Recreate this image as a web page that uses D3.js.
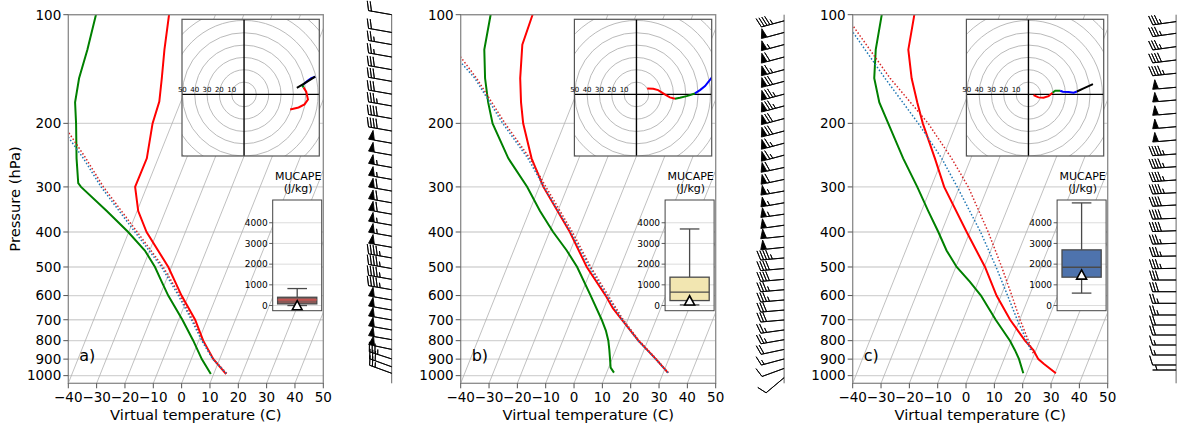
<!DOCTYPE html>
<html><head><meta charset="utf-8">
<script src="https://cdn.jsdelivr.net/npm/d3@7"></script>
<style>body{margin:0;background:#fff;} svg{display:block;font-family:"DejaVu Sans",sans-serif;}</style>
</head><body><svg id="chart" width="1184" height="425"></svg>
<script>
// ---------------- DATA ----------------
const panelLabels = ["a)", "b)", "c)"];
const pressureTicks = [100, 200, 300, 400, 500, 600, 700, 800, 900, 1000];
const tempTicks = [-40, -30, -20, -10, 0, 10, 20, 30, 40, 50];
const capeTicks = [0, 1000, 2000, 3000, 4000];

// Panel a
const tvA_p = [990, 900, 800, 700, 600, 500, 400, 350, 300, 250, 200, 174, 150, 125, 100];
const tvA_t = [14.4, 7.8, 1.6, -4.2, -12.4, -21.1, -33.7, -39.6, -44.1, -44.0, -46.9, -47.6, -50.0, -53.1, -56.4];
const tdA_p = [990, 900, 800, 700, 600, 550, 500, 450, 400, 350, 300, 293, 250, 200, 175, 150, 125, 100];
const tdA_t = [9.0, 3.7, -1.9, -8.7, -17.1, -21.3, -25.8, -31.7, -40.2, -50.7, -63.2, -64.7, -68.8, -73.9, -77.2, -79.2, -80.3, -82.2];
const parcelVA_p = [985, 900, 800, 700, 600, 500, 400, 300, 250, 211];
const parcelVA_t = [14.5, 7.8, 1.4, -5.1, -13.0, -22.9, -37.0, -55.3, -65.5, -75.5];
const parcelA_p = [985, 900, 800, 700, 600, 500, 400, 300, 250, 218];
const parcelA_t = [14.3, 7.6, 1.1, -5.5, -13.5, -23.5, -37.8, -56.1, -66.4, -74.8];

// Panel b
const tvB_p = [981, 900, 800, 700, 650, 600, 500, 400, 300, 250, 200, 175, 150, 121, 100];
const tvB_t = [31.6, 25.5, 16.7, 7.9, 3.1, -1.2, -11.9, -22.8, -38.5, -46.7, -54.6, -58.3, -62.0, -66.0, -66.6];
const tdB_p = [981, 950, 900, 850, 800, 750, 700, 600, 500, 450, 400, 350, 300, 250, 200, 175, 150, 125, 100];
const tdB_t = [12.6, 10.7, 9.3, 7.8, 6.1, 3.8, 0.8, -6.5, -15.3, -21.3, -28.7, -36.3, -44.2, -54.9, -65.4, -69.9, -74.4, -78.7, -81.4];
const parcelVB_p = [981, 900, 800, 700, 600, 500, 400, 300, 250, 200, 150, 131];
const parcelVB_t = [31.8, 25.7, 17.0, 8.4, -0.3, -10.5, -21.9, -37.6, -47.3, -61.0, -77.4, -86.0];
const parcelB_p = [981, 900, 800, 700, 600, 500, 400, 300, 250, 200, 150, 133];
const parcelB_t = [31.6, 25.4, 16.6, 8.0, -0.8, -11.0, -22.5, -38.3, -48.0, -61.8, -78.0, -86.5];

// Panel c
const tvC_p = [985, 928, 900, 850, 800, 700, 600, 500, 400, 300, 250, 200, 175, 150, 125, 100];
const tvC_t = [30.3, 24.8, 22.1, 19.1, 14.8, 6.6, -1.6, -9.7, -21.1, -35.4, -42.7, -51.9, -56.8, -62.2, -67.4, -70.2];
const tdC_p = [985, 900, 850, 800, 700, 600, 550, 500, 450, 400, 350, 300, 250, 200, 175, 150, 125, 100];
const tdC_t = [18.8, 15.3, 12.6, 9.5, 1.5, -7.1, -12.9, -19.7, -25.6, -31.1, -37.6, -44.9, -53.9, -64.1, -70.2, -75.4, -78.9, -81.7];
const parcelVC_p = [867, 800, 700, 600, 500, 400, 300, 250, 200, 150, 107];
const parcelVC_t = [19.5, 16.0, 10.1, 3.8, -3.8, -13.5, -26.9, -36.8, -50.0, -69.8, -90.5];
const parcelC_p = [849, 800, 700, 600, 500, 400, 300, 250, 200, 150, 112];
const parcelC_t = [18.1, 15.4, 9.1, 2.3, -5.8, -16.2, -30.8, -40.3, -53.5, -71.6, -89.3];

// Hodographs (u, v) by layer
const hodoLayers = ["low", "mid", "upper", "top"];
const hodoA_u = {low: [37.4, 44.2, 49, 51.8, 50.4, 48.2], mid: [48.2, 47.2, 48.5], upper: [48.5, 51.5, 54.5, 57.7], top: [57.7, 52.5, 48, 42.8]};
const hodoA_v = {low: [-12.2, -10.6, -8.1, -4.1, 2.2, 5.7], mid: [5.7, 7.3, 8.5], upper: [8.5, 11, 13.3, 14.4], top: [14.4, 11.2, 8.3, 5.4]};
const hodoB_u = {low: [8.7, 13.6, 17.6, 23, 27.1, 31.2], mid: [31.2, 35.2, 40.7, 47.4], upper: [47.4, 51.5, 55.6, 60.2, 63], top: []};
const hodoB_v = {low: [4.9, 4.6, 3.5, 0, -2.4, -3.5], mid: [-3.5, -2.7, -1.4, 0.8], upper: [0.8, 3.5, 6.8, 12.7, 16], top: []};
const hodoC_u = {low: [4.1, 8.1, 12.2, 16.3, 19.5], mid: [19.5, 21.7, 25.7], upper: [25.7, 27.9, 32.5, 36.6, 39.3], top: [39.3, 44.7, 52.3]};
const hodoC_v = {low: [-0.5, -2.4, -2.7, -1.4, 1.4], mid: [1.4, 3, 3], upper: [3, 2.2, 1.9, 1.4, 2.4], top: [2.4, 4.9, 8.4]};
const hodoRings = [10, 20, 30, 40, 50, 60, 70, 80];
const hodoRingLabels = [10, 20, 30, 40, 50];

// MUCAPE box plots (J/kg)
const capeLow = [0, 30, 600];
const capeQ1 = [80, 240, 1370];
const capeMed = [270, 650, 1850];
const capeQ3 = [400, 1370, 2690];
const capeHigh = [820, 3700, 4960];
const capeObs = [10, 250, 1500];

// Wind barbs (top -> bottom): pressure (hPa), speed (kt), direction (deg)
const barbA_p = [100, 112, 121, 131, 142, 153, 166, 179, 194, 210, 227, 245, 265, 286, 308, 332, 357, 383, 411, 441, 472, 505, 541, 578, 617, 658, 701, 747, 795, 846, 899, 945, 985];
const barbA_s = [20, 20, 25, 25, 30, 30, 30, 35, 40, 40, 50, 50, 55, 55, 60, 60, 60, 55, 55, 50, 45, 45, 45, 45, 50, 50, 50, 50, 50, 50, 35, 30, 25];
const barbA_d = [280, 280, 280, 280, 280, 280, 280, 280, 280, 280, 280, 280, 280, 280, 280, 280, 280, 280, 280, 280, 280, 280, 280, 280, 280, 280, 280, 280, 280, 282, 288, 290, 290];
const barbB_p = [104, 112, 121, 131, 142, 153, 166, 179, 194, 210, 227, 245, 265, 286, 308, 332, 357, 383, 411, 441, 472, 505, 541, 578, 617, 658, 701, 747, 795, 846, 899, 955, 1013];
const barbB_s = [45, 50, 55, 60, 65, 70, 75, 75, 70, 70, 65, 65, 60, 60, 55, 55, 55, 50, 50, 50, 45, 40, 40, 35, 35, 30, 30, 25, 25, 20, 15, 10, 10];
const barbB_d = [255, 255, 255, 255, 255, 255, 255, 255, 255, 255, 255, 255, 258, 258, 260, 260, 262, 262, 264, 264, 265, 265, 265, 265, 265, 265, 265, 262, 260, 258, 255, 250, 230];
const barbC_p = [104.5, 112.6, 122.6, 133.5, 145.3, 158.9, 172.3, 187.6, 204.3, 222.4, 243.2, 263.7, 287.0, 311.3, 336.7, 366.5, 396.7, 429.8, 466.1, 504.2, 543.3, 585.4, 630.3, 679.1, 723.9, 771.6, 822.4, 876.6, 934.3, 964.6];
const barbC_s = [35, 35, 35, 40, 45, 50, 50, 50, 50, 50, 45, 45, 45, 45, 40, 40, 40, 35, 35, 35, 30, 30, 25, 25, 20, 20, 15, 15, 10, 5];
const barbC_d = [262, 262, 262, 263, 264, 265, 265, 265, 265, 265, 266, 266, 266, 267, 267, 268, 268, 268, 269, 269, 270, 270, 270, 270, 270, 270, 270, 270, 270, 270];

// ---------------- LAYOUT ----------------
const panelX = [68.3, 460.7, 852.7];
const W = 255, yTop = 14.7, yBot = 383.3, H = yBot - yTop;
const skew = Math.tan(30 * Math.PI / 180) * W / H;
const FONT = "DejaVu Sans, sans-serif";
const layerColor = {low: "red", mid: "green", upper: "blue", top: "black"};
const boxFill = ["#8a5a58", "#f2e6b1", "#4e73ad"];

const profiles = [
  {tv: [tvA_p, tvA_t], td: [tdA_p, tdA_t], pv: [parcelVA_p, parcelVA_t], pt: [parcelA_p, parcelA_t], hu: hodoA_u, hv: hodoA_v, bp: barbA_p, bs: barbA_s, bd: barbA_d},
  {tv: [tvB_p, tvB_t], td: [tdB_p, tdB_t], pv: [parcelVB_p, parcelVB_t], pt: [parcelB_p, parcelB_t], hu: hodoB_u, hv: hodoB_v, bp: barbB_p, bs: barbB_s, bd: barbB_d},
  {tv: [tvC_p, tvC_t], td: [tdC_p, tdC_t], pv: [parcelVC_p, parcelVC_t], pt: [parcelC_p, parcelC_t], hu: hodoC_u, hv: hodoC_v, bp: barbC_p, bs: barbC_s, bd: barbC_d}
];

const svg = d3.select("#chart");
svg.append("rect").attr("width", 1184).attr("height", 425).attr("fill", "#fff");
const defs = svg.append("defs");
const yP = d3.scaleLog().domain([1050, 100]).range([yBot, yTop]);
const minus = s => String(s).replace("-", "\u2212");

function barbPoly(spd, dir, L) {
  const s = Math.round(spd / 5) * 5;
  const nflags = Math.floor(s / 50);
  let rem = s - nflags * 50;
  const nb = Math.floor(rem / 10);
  const half = (rem - nb * 10) >= 5;
  const h = 0.4 * L, w = 0.25 * L, sp = 0.125 * L;
  const pts = [[0, 0]];
  let off = L;
  for (let i = 0; i < nflags; i++) {
    if (off !== L) off += sp / 2;
    pts.push([0, off], [h, off - w / 2], [0, off - w]);
    off -= w + sp;
  }
  for (let i = 0; i < nb; i++) {
    pts.push([0, off], [h, off + w / 2], [0, off]);
    off -= sp;
  }
  if (half) {
    if (off === L) { pts.push([0, off]); off -= 1.5 * sp; }
    pts.push([0, off], [h / 2, off + w / 4], [0, off]);
  }
  const rad = dir * Math.PI / 180;
  const u = -s * Math.sin(rad), v = -s * Math.cos(rad);
  const th = Math.atan2(v, u) + Math.PI / 2;
  const c = Math.cos(th), sn = Math.sin(th);
  return pts.map(([x, y]) => [x * c - y * sn, x * sn + y * c]);
}

profiles.forEach((prof, i) => {
  const x0 = panelX[i];
  const xT = d3.scaleLinear().domain([-40, 50]).range([x0, x0 + W]);
  const px = (T, p) => xT(T) + skew * (yBot - yP(p));
  const g = svg.append("g");
  const cid = "clip" + i;
  defs.append("clipPath").attr("id", cid).append("rect")
    .attr("x", x0).attr("y", yTop).attr("width", W).attr("height", H);

  const grid = g.append("g").attr("clip-path", `url(#${cid})`);
  // isobars
  grid.selectAll(".isobar").data(pressureTicks).join("line")
    .attr("x1", x0).attr("x2", x0 + W)
    .attr("y1", d => yP(d)).attr("y2", d => yP(d))
    .attr("stroke", "#d4d4d4").attr("stroke-width", 1.3);
  // isotherms (one per bottom tick)
  grid.selectAll(".isotherm").data(tempTicks).join("line")
    .attr("x1", d => xT(d)).attr("y1", yBot)
    .attr("x2", d => xT(d) + skew * H).attr("y2", yTop)
    .attr("stroke", "#b0b0b0").attr("stroke-width", 0.8);

  // profiles
  const line = d3.line().x(d => px(d[1], d[0])).y(d => yP(d[0]));
  const zip = ([ps, ts]) => ps.map((p, k) => [p, ts[k]]);
  const curves = g.append("g").attr("clip-path", `url(#${cid})`);
  curves.append("path").attr("d", line(zip(prof.tv))).attr("fill", "none").attr("stroke", "red").attr("stroke-width", 2);
  curves.append("path").attr("d", line(zip(prof.td))).attr("fill", "none").attr("stroke", "green").attr("stroke-width", 2);
  curves.append("path").attr("d", line(zip(prof.pv))).attr("fill", "none").attr("stroke", "#d62728").attr("stroke-width", 1.5).attr("stroke-dasharray", "1.5,2");
  curves.append("path").attr("d", line(zip(prof.pt))).attr("fill", "none").attr("stroke", "#1f77b4").attr("stroke-width", 1.5).attr("stroke-dasharray", "1.5,2");

  // spines
  g.append("rect").attr("x", x0).attr("y", yTop).attr("width", W).attr("height", H)
    .attr("fill", "none").attr("stroke", "#8a8a8a").attr("stroke-width", 1.3);

  // y ticks
  const yt = g.append("g");
  pressureTicks.forEach(p => {
    yt.append("line").attr("x1", x0 - 5).attr("x2", x0).attr("y1", yP(p)).attr("y2", yP(p)).attr("stroke", "#555").attr("stroke-width", 1);
    yt.append("text").attr("x", x0 - 7).attr("y", yP(p) + 4.8).attr("text-anchor", "end")
      .attr("font-size", 13.5).attr("font-family", FONT).text(p);
  });
  // x ticks
  tempTicks.forEach(t => {
    yt.append("line").attr("x1", xT(t)).attr("x2", xT(t)).attr("y1", yBot).attr("y2", yBot + 5).attr("stroke", "#555").attr("stroke-width", 1);
    yt.append("text").attr("x", xT(t)).attr("y", yBot + 18.5).attr("text-anchor", "middle")
      .attr("font-size", 13.5).attr("font-family", FONT).text(minus(t));
  });
  g.append("text").attr("x", x0 + W / 2).attr("y", 419.5).attr("text-anchor", "middle")
    .attr("font-size", 14.7).attr("font-family", FONT).text("Virtual temperature (C)");
  if (i === 0) {
    g.append("text").attr("transform", `translate(20.3,${(yTop + yBot) / 2}) rotate(-90)`)
      .attr("text-anchor", "middle").attr("font-size", 14.7).attr("font-family", FONT).text("Pressure (hPa)");
  }
  g.append("text").attr("x", x0 + 11).attr("y", 360.5).attr("font-size", 16).attr("font-family", FONT).text(panelLabels[i]);

  // hodograph inset
  const hx = d3.scaleLinear().domain([-50.3, 61]).range([x0 + 113.7, x0 + 251]);
  const hy = d3.scaleLinear().domain([-50, 61]).range([156, 19.3]);
  const hid = "hclip" + i;
  defs.append("clipPath").attr("id", hid).append("rect")
    .attr("x", hx(-50.3)).attr("y", hy(61)).attr("width", hx(61) - hx(-50.3)).attr("height", hy(-50) - hy(61));
  const hg = g.append("g");
  hg.append("rect").attr("x", hx(-50.3)).attr("y", hy(61)).attr("width", hx(61) - hx(-50.3)).attr("height", hy(-50) - hy(61)).attr("fill", "#fff");
  const hin = hg.append("g").attr("clip-path", `url(#${hid})`);
  hin.selectAll("circle").data(hodoRings).join("circle")
    .attr("cx", hx(0)).attr("cy", hy(0)).attr("r", d => hx(d) - hx(0))
    .attr("fill", "none").attr("stroke", "#a8a8a8").attr("stroke-width", 0.8);
  hin.append("line").attr("x1", hx(-60)).attr("x2", hx(70)).attr("y1", hy(0)).attr("y2", hy(0)).attr("stroke", "#000").attr("stroke-width", 1.4);
  hin.append("line").attr("y1", hy(-60)).attr("y2", hy(70)).attr("x1", hx(0)).attr("x2", hx(0)).attr("stroke", "#000").attr("stroke-width", 1.4);
  const hline = d3.line().x(d => hx(d[0])).y(d => hy(d[1]));
  hodoLayers.forEach(layer => {
    const us = prof.hu[layer], vs = prof.hv[layer];
    if (!us.length) return;
    hin.append("path").attr("d", hline(us.map((u, k) => [u, vs[k]])))
      .attr("fill", "none").attr("stroke", layerColor[layer]).attr("stroke-width", 2);
  });
  hg.append("rect").attr("x", hx(-50.3)).attr("y", hy(61)).attr("width", hx(61) - hx(-50.3)).attr("height", hy(-50) - hy(61))
    .attr("fill", "none").attr("stroke", "#555").attr("stroke-width", 1.2);
  hg.selectAll(".rl").data(hodoRingLabels).join("text")
    .attr("x", d => hx(-d)).attr("y", hy(0) - 2.6).attr("text-anchor", "middle")
    .attr("font-size", 7).attr("font-family", FONT).text(d => d);

  // MUCAPE box inset
  const bxL = x0 + 204.4, bxR = x0 + 253.4, bxC = (bxL + bxR) / 2;
  const yC = d3.scaleLinear().domain([-250, 5100]).range([310.7, 200]);
  const bg = g.append("g");
  bg.append("rect").attr("x", bxL).attr("y", 200).attr("width", bxR - bxL).attr("height", 110.7).attr("fill", "#fff");
  capeTicks.forEach(t => {
    bg.append("line").attr("x1", bxL).attr("x2", bxR).attr("y1", yC(t)).attr("y2", yC(t)).attr("stroke", "#dcdcdc").attr("stroke-width", 1);
    bg.append("line").attr("x1", bxL - 3.5).attr("x2", bxL).attr("y1", yC(t)).attr("y2", yC(t)).attr("stroke", "#333").attr("stroke-width", 0.8);
    bg.append("text").attr("x", bxL - 5).attr("y", yC(t) + 3.2).attr("text-anchor", "end")
      .attr("font-size", 9).attr("font-family", FONT).text(t);
  });
  const bw = (bxR - bxL) * 0.8, cw = bw / 2;
  const lc = "#4a4a4a";
  bg.append("line").attr("x1", bxC).attr("x2", bxC).attr("y1", yC(capeHigh[i])).attr("y2", yC(capeQ3[i])).attr("stroke", lc).attr("stroke-width", 1.3);
  bg.append("line").attr("x1", bxC).attr("x2", bxC).attr("y1", yC(capeLow[i])).attr("y2", yC(capeQ1[i])).attr("stroke", lc).attr("stroke-width", 1.3);
  bg.append("line").attr("x1", bxC - cw / 2).attr("x2", bxC + cw / 2).attr("y1", yC(capeHigh[i])).attr("y2", yC(capeHigh[i])).attr("stroke", lc).attr("stroke-width", 1.3);
  bg.append("line").attr("x1", bxC - cw / 2).attr("x2", bxC + cw / 2).attr("y1", yC(capeLow[i])).attr("y2", yC(capeLow[i])).attr("stroke", lc).attr("stroke-width", 1.3);
  bg.append("rect").attr("x", bxC - bw / 2).attr("y", yC(capeQ3[i])).attr("width", bw).attr("height", yC(capeQ1[i]) - yC(capeQ3[i]))
    .attr("fill", boxFill[i]).attr("stroke", lc).attr("stroke-width", 1.3);
  bg.append("line").attr("x1", bxC - bw / 2).attr("x2", bxC + bw / 2).attr("y1", yC(capeMed[i])).attr("y2", yC(capeMed[i]))
    .attr("stroke", i === 0 ? "#d9534f" : lc).attr("stroke-width", 1.3);
  const ty = yC(capeObs[i]);
  bg.append("path").attr("d", `M${bxC},${ty - 4.6}L${bxC + 5},${ty + 4.6}L${bxC - 5},${ty + 4.6}Z`)
    .attr("fill", "#fff").attr("stroke", "#000").attr("stroke-width", 1.6);
  bg.append("rect").attr("x", bxL).attr("y", 200).attr("width", bxR - bxL).attr("height", 110.7)
    .attr("fill", "none").attr("stroke", "#444").attr("stroke-width", 1);
  bg.append("text").attr("x", bxC + 1).attr("y", 180).attr("text-anchor", "middle").attr("font-size", 11).attr("font-family", FONT).text("MUCAPE");
  bg.append("text").attr("x", bxC + 1).attr("y", 191.5).attr("text-anchor", "middle").attr("font-size", 11).attr("font-family", FONT).text("(J/kg)");

  // wind barbs
  const sx = x0 + 323.4;
  g.append("line").attr("x1", sx).attr("x2", sx).attr("y1", yTop).attr("y2", yBot).attr("stroke", "#666").attr("stroke-width", 1);
  const wg = g.append("g");
  prof.bp.forEach((p, k) => {
    const pts = barbPoly(prof.bs[k], prof.bd[k], 23.5);
    const by = yP(p);
    const d = "M" + pts.map(([x, y]) => `${sx + x},${by - y}`).join("L") + "Z";
    wg.append("path").attr("d", d).attr("fill", "#000").attr("stroke", "#000").attr("stroke-width", 0.9).attr("stroke-linejoin", "miter");
  });
});
</script></body></html>
